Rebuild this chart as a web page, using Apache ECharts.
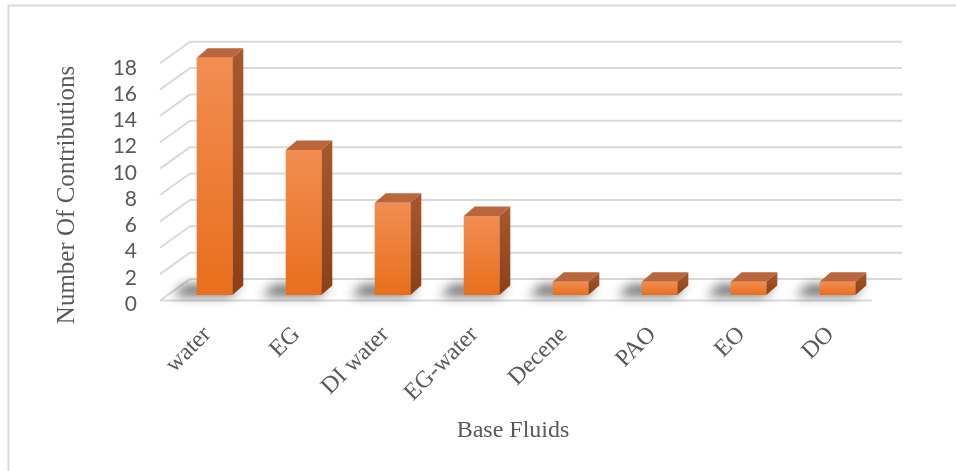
<!DOCTYPE html>
<html>
<head>
<meta charset="utf-8">
<script src="https://cdn.jsdelivr.net/npm/echarts@6/dist/echarts.min.js"></script>
<style>
  html, body { margin: 0; padding: 0; background: #fff; }
  #chart { width: 956px; height: 471px; }
</style>
</head>
<body>
<div id="chart"></div>
<script>
// Base fluids and how many contributions used each one
const categories = ['water', 'EG', 'DI water', 'EG-water', 'Decene', 'PAO', 'EO', 'DO'];
const contributions = [18, 11, 7, 6, 1, 1, 1, 1];
const valueTicks = [0, 2, 4, 6, 8, 10, 12, 14, 16, 18];

// Pseudo-3D offsets relative to the plane the bar fronts stand in
const FRONT = [-10, 5.5];     // front edge of floor / side wall
const BACK = [20, -16];       // back wall
const BAR_DEPTH = [11, -9.5]; // depth of each bar

const GRID_COLOR = '#d9d9d9';
const TEXT_COLOR = '#595959';
const SERIF = '"Liberation Serif", "Times New Roman", serif';
const SANS = 'Lato, "Noto Sans", sans-serif';

const chart = echarts.init(document.getElementById('chart'), null, { renderer: 'canvas' });

// Back-wall gridline plus side-wall diagonal for one tick value
function renderGridline(params, api) {
  const v = api.value(1);
  const band = api.size([1, 0])[0];
  const p0 = api.coord([0, v]);
  const pN = api.coord([categories.length - 1, v]);
  const left = p0[0] - band / 2;
  const right = pN[0] + band / 2;
  const y = p0[1];
  const st = { stroke: GRID_COLOR, lineWidth: 2, fill: null };
  const children = [
    { type: 'line', shape: { x1: left + BACK[0], y1: y + BACK[1], x2: right + BACK[0], y2: y + BACK[1] }, style: st },
    { type: 'line', shape: { x1: left + FRONT[0], y1: y + FRONT[1], x2: left + BACK[0], y2: y + BACK[1] }, style: st }
  ];
  if (v === 0) {
    children.push({ type: 'line', shape: { x1: left + FRONT[0], y1: y + FRONT[1], x2: right + FRONT[0], y2: y + FRONT[1] }, style: st });
  }
  return { type: 'group', children };
}

// Box-shaped bar: floor shadow, front face, side face, top face
function renderBar(params, api) {
  const i = api.value(0);
  const v = api.value(1);
  const top = api.coord([i, v]);
  const base = api.coord([i, 0]);
  const w = api.size([1, 0])[0] * 0.4;
  const x = top[0] - w / 2;
  const yT = top[1];
  const yB = base[1];
  const dx = BAR_DEPTH[0], dy = BAR_DEPTH[1];
  const SHIFT = 3000; // shape drawn off-canvas so only its blurred shadow lands on the floor
  return {
    type: 'group',
    children: [
      {
        type: 'polygon',
        shape: { points: [[x - 24 - SHIFT, yB + 1], [x + w - 2 - SHIFT, yB + 1], [x + w + 8 - SHIFT, yB - 10], [x - 12 - SHIFT, yB - 10]] },
        style: { fill: '#000', shadowBlur: 11, shadowColor: 'rgba(0,0,0,0.6)', shadowOffsetX: SHIFT, shadowOffsetY: 0 }
      },
      {
        type: 'polygon',
        shape: { points: [[x + w, yT], [x + w + dx, yT + dy], [x + w + dx, yB + dy], [x + w, yB]] },
        style: { fill: new echarts.graphic.LinearGradient(0, 0, 0, 1, [
          { offset: 0, color: '#a9582c' }, { offset: 1, color: '#8c4014' }
        ]) }
      },
      {
        type: 'polygon',
        shape: { points: [[x, yT], [x + dx, yT + dy], [x + w + dx, yT + dy], [x + w, yT]] },
        style: { fill: '#b9663d' }
      },
      {
        type: 'rect',
        shape: { x: x, y: yT, width: w, height: yB - yT },
        style: { fill: new echarts.graphic.LinearGradient(0, 0, 0, 1, [
          { offset: 0, color: '#f28d52' }, { offset: 1, color: '#e86f1c' }
        ]) }
      }
    ]
  };
}

const option = {
  animation: false,
  backgroundColor: '#fff',
  graphic: [{
    type: 'rect',
    shape: { x: 8.5, y: 5.5, width: 1000, height: 600 },
    style: { fill: null, stroke: GRID_COLOR, lineWidth: 2 },
    silent: true
  }],
  grid: [
    // plane of the bar fronts
    { left: 170, right: 74, top: 57.7, bottom: 176 },
    // front plane, carrying the axis labels
    { left: 163, right: 81, top: 68, bottom: 167 }
  ],
  xAxis: [
    {
      type: 'category',
      gridIndex: 0,
      data: categories,
      boundaryGap: true,
      show: false
    },
    {
      type: 'category',
      gridIndex: 1,
      data: categories,
      boundaryGap: true,
      axisLine: { show: false },
      axisTick: { show: false },
      axisLabel: {
        rotate: 45,
        margin: 27,
        interval: 0,
        color: TEXT_COLOR,
        fontFamily: SERIF,
        fontSize: 24
      },
      name: 'Base Fluids',
      nameLocation: 'middle',
      nameGap: 115,
      nameTextStyle: { color: TEXT_COLOR, fontFamily: SERIF, fontSize: 24, padding: [0, 12, 0, 0] }
    }
  ],
  yAxis: [
    {
      type: 'value',
      gridIndex: 0,
      min: 0, max: 18, interval: 2,
      show: false
    },
    {
      type: 'value',
      gridIndex: 1,
      min: 0, max: 18, interval: 2,
      axisLine: { show: false },
      axisTick: { show: false },
      splitLine: { show: false },
      axisLabel: {
        margin: 26,
        color: TEXT_COLOR,
        fontFamily: SANS,
        fontSize: 21
      },
      name: 'Number Of Contributions',
      nameLocation: 'middle',
      nameGap: 83,
      nameTextStyle: { color: TEXT_COLOR, fontFamily: SERIF, fontSize: 25, padding: [0, 18, 0, 0] }
    }
  ],
  series: [
    {
      type: 'custom',
      xAxisIndex: 0,
      yAxisIndex: 0,
      silent: true,
      z: 1,
      renderItem: renderGridline,
      data: valueTicks.map(v => [0, v])
    },
    {
      type: 'custom',
      xAxisIndex: 0,
      yAxisIndex: 0,
      z: 2,
      renderItem: renderBar,
      data: contributions.map((v, i) => [i, v])
    }
  ]
};

chart.setOption(option);
</script>
</body>
</html>
